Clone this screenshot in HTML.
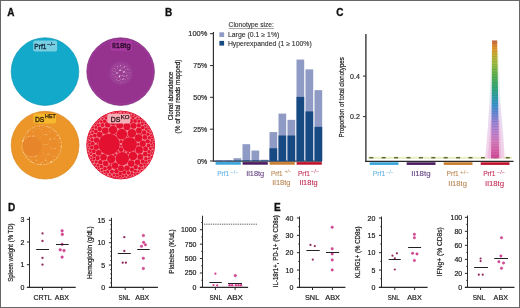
<!DOCTYPE html>
<html><head><meta charset="utf-8"><style>html,body{margin:0;padding:0;background:#fff;width:520px;height:308px;overflow:hidden}svg{display:block;will-change:transform}</style></head>
<body><svg width="520" height="308" viewBox="0 0 520 308" font-family='"Liberation Sans", sans-serif' fill="#2e2e2e"><text x="7.3" y="15.8" font-size="10" fill="#111" font-weight="bold" stroke="#111" stroke-width="0.3">A</text>
<text x="165" y="15.6" font-size="10" fill="#111" font-weight="bold" stroke="#111" stroke-width="0.3">B</text>
<text x="336.3" y="16.1" font-size="10" fill="#111" font-weight="bold" stroke="#111" stroke-width="0.3">C</text>
<text x="8.1" y="210.6" font-size="10" fill="#111" font-weight="bold" stroke="#111" stroke-width="0.3">D</text>
<text x="274" y="210.6" font-size="10" fill="#111" font-weight="bold" stroke="#111" stroke-width="0.3">E</text>
<circle cx="45.00" cy="71.60" r="33.80" fill="#12a9ca" stroke="#0b98b4" stroke-width="0.7"/>
<circle cx="120.60" cy="71.60" r="33.80" fill="#95338f" stroke="#7b2a7a" stroke-width="0.7"/>
<circle cx="120.6" cy="71.6" r="32.6" fill="none" stroke="#a0399a" stroke-width="1.2" opacity="0.8"/>
<defs><radialGradient id="pg"><stop offset="0" stop-color="#fff0ff"/><stop offset="0.75" stop-color="#f0d0f0"/><stop offset="1" stop-color="#95338f"/></radialGradient></defs>
<defs><radialGradient id="ph"><stop offset="0" stop-color="#b060b0"/><stop offset="0.7" stop-color="#a04a9c"/><stop offset="1" stop-color="#95338f" stop-opacity="0"/></radialGradient></defs>
<circle cx="120.80" cy="73.20" r="13.60" fill="url(#ph)"/>
<circle cx="120.80" cy="73.20" r="10.00" fill="url(#pg)"/>
<circle cx="120.70" cy="73.10" r="2.68" fill="#9a3f94"/>
<circle cx="121.90" cy="77.30" r="2.15" fill="#9a3f94"/>
<circle cx="124.90" cy="74.30" r="2.15" fill="#9a3f94"/>
<circle cx="117.10" cy="75.50" r="2.13" fill="#9a3f94"/>
<circle cx="123.10" cy="69.50" r="2.13" fill="#9a3f94"/>
<circle cx="117.10" cy="70.70" r="2.12" fill="#9a3f94"/>
<circle cx="119.50" cy="68.00" r="1.99" fill="#9a3f94"/>
<circle cx="118.60" cy="78.80" r="1.92" fill="#9a3f94"/>
<circle cx="126.40" cy="71.00" r="1.92" fill="#9a3f94"/>
<circle cx="114.40" cy="73.10" r="1.87" fill="#9a3f94"/>
<circle cx="125.50" cy="77.90" r="1.84" fill="#9a3f94"/>
<circle cx="122.20" cy="66.20" r="1.75" fill="#9a3f94"/>
<circle cx="116.20" cy="67.40" r="1.74" fill="#9a3f94"/>
<circle cx="115.30" cy="78.50" r="1.71" fill="#9a3f94"/>
<circle cx="126.10" cy="67.70" r="1.71" fill="#9a3f94"/>
<circle cx="128.20" cy="73.70" r="1.71" fill="#9a3f94"/>
<circle cx="121.30" cy="80.60" r="1.71" fill="#9a3f94"/>
<circle cx="113.80" cy="70.10" r="1.69" fill="#9a3f94"/>
<circle cx="113.50" cy="76.10" r="1.68" fill="#9a3f94"/>
<circle cx="128.20" cy="76.70" r="1.62" fill="#9a3f94"/>
<circle cx="124.30" cy="80.60" r="1.62" fill="#9a3f94"/>
<circle cx="118.60" cy="65.00" r="1.60" fill="#9a3f94"/>
<circle cx="118.60" cy="81.80" r="1.55" fill="#9a3f94"/>
<circle cx="129.40" cy="71.00" r="1.55" fill="#9a3f94"/>
<circle cx="124.90" cy="65.00" r="1.51" fill="#9a3f94"/>
<circle cx="111.70" cy="71.90" r="1.50" fill="#9a3f94"/>
<circle cx="115.90" cy="81.20" r="1.47" fill="#9a3f94"/>
<circle cx="128.80" cy="68.30" r="1.47" fill="#9a3f94"/>
<circle cx="113.50" cy="67.40" r="1.46" fill="#9a3f94"/>
<circle cx="121.00" cy="63.80" r="1.43" fill="#9a3f94"/>
<circle cx="127.30" cy="80.00" r="1.43" fill="#9a3f94"/>
<circle cx="111.40" cy="74.30" r="1.39" fill="#9a3f94"/>
<circle cx="122.50" cy="82.70" r="1.20" fill="#9a3f94"/>
<circle cx="130.30" cy="74.90" r="1.20" fill="#9a3f94"/>
<circle cx="112.90" cy="78.50" r="1.19" fill="#9a3f94"/>
<circle cx="116.20" cy="64.70" r="1.19" fill="#9a3f94"/>
<circle cx="123.10" cy="63.80" r="1.16" fill="#9a3f94"/>
<circle cx="45.10" cy="145.20" r="33.90" fill="#ec9529" stroke="#d98a1e" stroke-width="0.7"/>
<circle cx="41.80" cy="145.20" r="19.80" fill="#fbdca0"/>
<circle cx="31.90" cy="146.40" r="10.10" fill="#ea8d2a"/>
<circle cx="37.90" cy="133.20" r="5.00" fill="#ea8d2a"/>
<circle cx="40.90" cy="157.80" r="5.00" fill="#ea8d2a"/>
<circle cx="44.80" cy="139.80" r="5.00" fill="#ea8d2a"/>
<circle cx="46.00" cy="149.40" r="5.00" fill="#ea8d2a"/>
<circle cx="53.50" cy="143.40" r="5.00" fill="#ea8d2a"/>
<circle cx="54.10" cy="152.40" r="4.15" fill="#ea8d2a"/>
<circle cx="52.00" cy="135.00" r="4.06" fill="#ea8d2a"/>
<circle cx="49.30" cy="158.10" r="3.78" fill="#ea8d2a"/>
<circle cx="45.70" cy="130.80" r="3.76" fill="#ea8d2a"/>
<circle cx="30.40" cy="133.80" r="3.12" fill="#ea8d2a"/>
<circle cx="33.40" cy="159.00" r="3.10" fill="#ea8d2a"/>
<circle cx="58.60" cy="148.20" r="2.60" fill="#ea8d2a"/>
<circle cx="57.40" cy="137.70" r="2.47" fill="#ea8d2a"/>
<circle cx="41.20" cy="127.50" r="2.19" fill="#ea8d2a"/>
<circle cx="45.70" cy="162.60" r="2.18" fill="#ea8d2a"/>
<circle cx="28.90" cy="157.50" r="2.10" fill="#ea8d2a"/>
<circle cx="26.20" cy="136.20" r="2.08" fill="#ea8d2a"/>
<circle cx="50.80" cy="129.60" r="2.08" fill="#ea8d2a"/>
<circle cx="36.70" cy="162.60" r="1.97" fill="#ea8d2a"/>
<circle cx="59.80" cy="144.30" r="1.96" fill="#ea8d2a"/>
<circle cx="32.50" cy="129.60" r="1.94" fill="#ea8d2a"/>
<circle cx="54.40" cy="158.10" r="1.92" fill="#ea8d2a"/>
<circle cx="59.50" cy="141.00" r="1.91" fill="#ea8d2a"/>
<circle cx="37.60" cy="127.20" r="1.61" fill="#ea8d2a"/>
<circle cx="42.70" cy="163.50" r="1.55" fill="#ea8d2a"/>
<circle cx="34.90" cy="128.10" r="1.49" fill="#ea8d2a"/>
<circle cx="59.20" cy="151.80" r="1.49" fill="#ea8d2a"/>
<circle cx="39.40" cy="163.50" r="1.48" fill="#ea8d2a"/>
<circle cx="56.80" cy="134.10" r="1.43" fill="#ea8d2a"/>
<circle cx="24.40" cy="138.60" r="1.42" fill="#ea8d2a"/>
<circle cx="48.70" cy="162.60" r="1.36" fill="#ea8d2a"/>
<circle cx="26.50" cy="155.70" r="1.35" fill="#ea8d2a"/>
<circle cx="44.20" cy="126.60" r="1.30" fill="#ea8d2a"/>
<circle cx="53.50" cy="130.50" r="1.29" fill="#ea8d2a"/>
<circle cx="46.00" cy="155.10" r="1.28" fill="#ea8d2a"/>
<circle cx="56.50" cy="156.60" r="1.26" fill="#ea8d2a"/>
<circle cx="40.90" cy="152.10" r="1.25" fill="#ea8d2a"/>
<circle cx="42.40" cy="144.90" r="1.21" fill="#ea8d2a"/>
<circle cx="58.60" cy="153.90" r="1.18" fill="#ea8d2a"/>
<circle cx="52.90" cy="160.50" r="1.14" fill="#ea8d2a"/>
<circle cx="39.10" cy="138.60" r="1.13" fill="#ea8d2a"/>
<circle cx="43.30" cy="134.40" r="1.13" fill="#ea8d2a"/>
<circle cx="49.60" cy="153.60" r="1.11" fill="#ea8d2a"/>
<circle cx="48.40" cy="127.50" r="1.10" fill="#ea8d2a"/>
<circle cx="26.80" cy="133.50" r="1.08" fill="#ea8d2a"/>
<circle cx="30.10" cy="130.20" r="1.08" fill="#ea8d2a"/>
<circle cx="48.10" cy="144.30" r="1.07" fill="#ea8d2a"/>
<circle cx="51.40" cy="148.50" r="1.07" fill="#ea8d2a"/>
<circle cx="29.80" cy="159.90" r="1.06" fill="#ea8d2a"/>
<circle cx="47.50" cy="134.70" r="1.05" fill="#ea8d2a"/>
<circle cx="55.60" cy="132.30" r="1.04" fill="#ea8d2a"/>
<circle cx="57.70" cy="155.40" r="1.03" fill="#ea8d2a"/>
<circle cx="34.30" cy="162.60" r="1.03" fill="#ea8d2a"/>
<circle cx="46.00" cy="126.60" r="1.03" fill="#ea8d2a"/>
<circle cx="25.00" cy="154.20" r="1.01" fill="#ea8d2a"/>
<circle cx="31.90" cy="146.40" r="9.90" fill="#e6852a"/>
<circle cx="61.20" cy="145.20" r="0.42" fill="#fde2a8"/>
<circle cx="61.06" cy="147.54" r="0.42" fill="#fde2a8"/>
<circle cx="60.64" cy="149.84" r="0.42" fill="#fde2a8"/>
<circle cx="59.94" cy="152.08" r="0.42" fill="#fde2a8"/>
<circle cx="58.98" cy="154.22" r="0.42" fill="#fde2a8"/>
<circle cx="57.77" cy="156.22" r="0.42" fill="#fde2a8"/>
<circle cx="56.32" cy="158.06" r="0.42" fill="#fde2a8"/>
<circle cx="54.66" cy="159.72" r="0.42" fill="#fde2a8"/>
<circle cx="52.82" cy="161.17" r="0.42" fill="#fde2a8"/>
<circle cx="50.82" cy="162.38" r="0.42" fill="#fde2a8"/>
<circle cx="48.68" cy="163.34" r="0.42" fill="#fde2a8"/>
<circle cx="46.44" cy="164.04" r="0.42" fill="#fde2a8"/>
<circle cx="44.14" cy="164.46" r="0.42" fill="#fde2a8"/>
<circle cx="41.80" cy="164.60" r="0.42" fill="#fde2a8"/>
<circle cx="39.46" cy="164.46" r="0.42" fill="#fde2a8"/>
<circle cx="37.16" cy="164.04" r="0.42" fill="#fde2a8"/>
<circle cx="34.92" cy="163.34" r="0.42" fill="#fde2a8"/>
<circle cx="32.78" cy="162.38" r="0.42" fill="#fde2a8"/>
<circle cx="30.78" cy="161.17" r="0.42" fill="#fde2a8"/>
<circle cx="28.94" cy="159.72" r="0.42" fill="#fde2a8"/>
<circle cx="27.28" cy="158.06" r="0.42" fill="#fde2a8"/>
<circle cx="25.83" cy="156.22" r="0.42" fill="#fde2a8"/>
<circle cx="24.62" cy="154.22" r="0.42" fill="#fde2a8"/>
<circle cx="23.66" cy="152.08" r="0.42" fill="#fde2a8"/>
<circle cx="22.96" cy="149.84" r="0.42" fill="#fde2a8"/>
<circle cx="22.54" cy="147.54" r="0.42" fill="#fde2a8"/>
<circle cx="22.40" cy="145.20" r="0.42" fill="#fde2a8"/>
<circle cx="22.54" cy="142.86" r="0.42" fill="#fde2a8"/>
<circle cx="22.96" cy="140.56" r="0.42" fill="#fde2a8"/>
<circle cx="23.66" cy="138.32" r="0.42" fill="#fde2a8"/>
<circle cx="24.62" cy="136.18" r="0.42" fill="#fde2a8"/>
<circle cx="25.83" cy="134.18" r="0.42" fill="#fde2a8"/>
<circle cx="27.28" cy="132.34" r="0.42" fill="#fde2a8"/>
<circle cx="28.94" cy="130.68" r="0.42" fill="#fde2a8"/>
<circle cx="30.78" cy="129.23" r="0.42" fill="#fde2a8"/>
<circle cx="32.78" cy="128.02" r="0.42" fill="#fde2a8"/>
<circle cx="34.92" cy="127.06" r="0.42" fill="#fde2a8"/>
<circle cx="37.16" cy="126.36" r="0.42" fill="#fde2a8"/>
<circle cx="39.46" cy="125.94" r="0.42" fill="#fde2a8"/>
<circle cx="41.80" cy="125.80" r="0.42" fill="#fde2a8"/>
<circle cx="44.14" cy="125.94" r="0.42" fill="#fde2a8"/>
<circle cx="46.44" cy="126.36" r="0.42" fill="#fde2a8"/>
<circle cx="48.68" cy="127.06" r="0.42" fill="#fde2a8"/>
<circle cx="50.82" cy="128.02" r="0.42" fill="#fde2a8"/>
<circle cx="52.82" cy="129.23" r="0.42" fill="#fde2a8"/>
<circle cx="54.66" cy="130.68" r="0.42" fill="#fde2a8"/>
<circle cx="56.32" cy="132.34" r="0.42" fill="#fde2a8"/>
<circle cx="57.77" cy="134.18" r="0.42" fill="#fde2a8"/>
<circle cx="58.98" cy="136.18" r="0.42" fill="#fde2a8"/>
<circle cx="59.94" cy="138.32" r="0.42" fill="#fde2a8"/>
<circle cx="60.64" cy="140.56" r="0.42" fill="#fde2a8"/>
<circle cx="61.06" cy="142.86" r="0.42" fill="#fde2a8"/>
<circle cx="32.99" cy="156.74" r="0.38" fill="#fbd89a"/>
<circle cx="30.81" cy="156.74" r="0.38" fill="#fbd89a"/>
<circle cx="28.69" cy="156.29" r="0.38" fill="#fbd89a"/>
<circle cx="26.70" cy="155.41" r="0.38" fill="#fbd89a"/>
<circle cx="24.94" cy="154.13" r="0.38" fill="#fbd89a"/>
<circle cx="23.49" cy="152.51" r="0.38" fill="#fbd89a"/>
<circle cx="22.40" cy="150.63" r="0.38" fill="#fbd89a"/>
<circle cx="21.73" cy="148.56" r="0.38" fill="#fbd89a"/>
<circle cx="21.50" cy="146.40" r="0.38" fill="#fbd89a"/>
<circle cx="21.73" cy="144.24" r="0.38" fill="#fbd89a"/>
<circle cx="22.40" cy="142.17" r="0.38" fill="#fbd89a"/>
<circle cx="23.49" cy="140.29" r="0.38" fill="#fbd89a"/>
<circle cx="24.94" cy="138.67" r="0.38" fill="#fbd89a"/>
<circle cx="26.70" cy="137.39" r="0.38" fill="#fbd89a"/>
<circle cx="28.69" cy="136.51" r="0.38" fill="#fbd89a"/>
<circle cx="30.81" cy="136.06" r="0.38" fill="#fbd89a"/>
<circle cx="32.99" cy="136.06" r="0.38" fill="#fbd89a"/>
<circle cx="120.65" cy="145.00" r="34.10" fill="#f38493"/>
<circle cx="109.10" cy="144.30" r="10.62" fill="#e3112f"/>
<circle cx="129.50" cy="144.60" r="7.42" fill="#e3112f"/>
<circle cx="122.30" cy="158.60" r="6.72" fill="#e3112f"/>
<circle cx="121.75" cy="134.20" r="5.35" fill="#e3112f"/>
<circle cx="131.90" cy="133.15" r="4.25" fill="#e3112f"/>
<circle cx="132.95" cy="155.90" r="4.23" fill="#e3112f"/>
<circle cx="113.00" cy="130.00" r="4.15" fill="#e3112f"/>
<circle cx="111.25" cy="159.05" r="4.14" fill="#e3112f"/>
<circle cx="138.55" cy="138.05" r="3.68" fill="#e3112f"/>
<circle cx="139.25" cy="149.95" r="3.67" fill="#e3112f"/>
<circle cx="127.00" cy="126.50" r="3.61" fill="#e3112f"/>
<circle cx="119.65" cy="125.10" r="3.53" fill="#e3112f"/>
<circle cx="105.30" cy="130.70" r="3.32" fill="#e3112f"/>
<circle cx="103.55" cy="157.30" r="3.31" fill="#e3112f"/>
<circle cx="131.20" cy="163.60" r="3.24" fill="#e3112f"/>
<circle cx="115.10" cy="165.70" r="3.23" fill="#e3112f"/>
<circle cx="142.75" cy="143.65" r="3.09" fill="#e3112f"/>
<circle cx="140.30" cy="156.95" r="2.92" fill="#e3112f"/>
<circle cx="121.05" cy="168.15" r="2.89" fill="#e3112f"/>
<circle cx="138.90" cy="130.70" r="2.88" fill="#e3112f"/>
<circle cx="133.65" cy="125.80" r="2.87" fill="#e3112f"/>
<circle cx="99.70" cy="134.55" r="2.84" fill="#e3112f"/>
<circle cx="98.65" cy="152.75" r="2.83" fill="#e3112f"/>
<circle cx="113.35" cy="122.65" r="2.82" fill="#e3112f"/>
<circle cx="105.65" cy="163.60" r="2.74" fill="#e3112f"/>
<circle cx="127.00" cy="168.15" r="2.72" fill="#e3112f"/>
<circle cx="107.75" cy="124.75" r="2.72" fill="#e3112f"/>
<circle cx="137.50" cy="162.20" r="2.70" fill="#e3112f"/>
<circle cx="96.20" cy="147.15" r="2.61" fill="#e3112f"/>
<circle cx="96.55" cy="140.15" r="2.60" fill="#e3112f"/>
<circle cx="124.20" cy="120.55" r="2.58" fill="#e3112f"/>
<circle cx="145.55" cy="148.90" r="2.48" fill="#e3112f"/>
<circle cx="144.85" cy="137.35" r="2.44" fill="#e3112f"/>
<circle cx="109.50" cy="167.80" r="2.44" fill="#e3112f"/>
<circle cx="121.05" cy="149.60" r="2.38" fill="#e3112f"/>
<circle cx="130.50" cy="121.25" r="2.38" fill="#e3112f"/>
<circle cx="118.25" cy="119.15" r="2.33" fill="#e3112f"/>
<circle cx="145.20" cy="154.15" r="2.28" fill="#e3112f"/>
<circle cx="99.70" cy="128.95" r="2.24" fill="#e3112f"/>
<circle cx="97.60" cy="158.00" r="2.23" fill="#e3112f"/>
<circle cx="100.40" cy="162.20" r="2.21" fill="#e3112f"/>
<circle cx="116.50" cy="171.30" r="2.19" fill="#e3112f"/>
<circle cx="144.15" cy="132.45" r="2.19" fill="#e3112f"/>
<circle cx="135.75" cy="167.10" r="2.17" fill="#e3112f"/>
<circle cx="138.90" cy="125.45" r="2.16" fill="#e3112f"/>
<circle cx="102.50" cy="125.10" r="2.13" fill="#e3112f"/>
<circle cx="131.90" cy="169.55" r="2.12" fill="#e3112f"/>
<circle cx="147.65" cy="141.20" r="2.07" fill="#e3112f"/>
<circle cx="124.20" cy="172.35" r="2.00" fill="#e3112f"/>
<circle cx="142.75" cy="161.50" r="2.00" fill="#e3112f"/>
<circle cx="93.75" cy="151.35" r="1.99" fill="#e3112f"/>
<circle cx="109.15" cy="119.85" r="1.99" fill="#e3112f"/>
<circle cx="94.80" cy="135.60" r="1.96" fill="#e3112f"/>
<circle cx="92.70" cy="143.65" r="1.92" fill="#e3112f"/>
<circle cx="111.95" cy="171.65" r="1.91" fill="#e3112f"/>
<circle cx="148.70" cy="145.40" r="1.91" fill="#e3112f"/>
<circle cx="135.05" cy="120.90" r="1.91" fill="#e3112f"/>
<circle cx="114.05" cy="117.75" r="1.89" fill="#e3112f"/>
<circle cx="142.75" cy="127.55" r="1.88" fill="#e3112f"/>
<circle cx="104.95" cy="168.50" r="1.87" fill="#e3112f"/>
<circle cx="95.85" cy="131.40" r="1.86" fill="#e3112f"/>
<circle cx="127.70" cy="117.40" r="1.82" fill="#e3112f"/>
<circle cx="94.10" cy="155.55" r="1.81" fill="#e3112f"/>
<circle cx="121.75" cy="116.35" r="1.79" fill="#e3112f"/>
<circle cx="104.60" cy="121.25" r="1.78" fill="#e3112f"/>
<circle cx="120.35" cy="173.40" r="1.78" fill="#e3112f"/>
<circle cx="145.90" cy="158.70" r="1.77" fill="#e3112f"/>
<circle cx="101.45" cy="166.40" r="1.77" fill="#e3112f"/>
<circle cx="128.40" cy="172.70" r="1.77" fill="#e3112f"/>
<circle cx="141.00" cy="165.35" r="1.76" fill="#e3112f"/>
<circle cx="91.65" cy="147.50" r="1.70" fill="#e3112f"/>
<circle cx="92.00" cy="139.80" r="1.70" fill="#e3112f"/>
<circle cx="149.05" cy="151.70" r="1.68" fill="#e3112f"/>
<circle cx="148.00" cy="134.20" r="1.64" fill="#e3112f"/>
<circle cx="149.40" cy="137.70" r="1.59" fill="#e3112f"/>
<circle cx="96.20" cy="161.85" r="1.58" fill="#e3112f"/>
<circle cx="121.05" cy="141.55" r="1.58" fill="#e3112f"/>
<circle cx="107.75" cy="171.65" r="1.58" fill="#e3112f"/>
<circle cx="132.95" cy="117.75" r="1.54" fill="#e3112f"/>
<circle cx="98.30" cy="125.10" r="1.53" fill="#e3112f"/>
<circle cx="116.85" cy="115.30" r="1.53" fill="#e3112f"/>
<circle cx="138.90" cy="121.25" r="1.53" fill="#e3112f"/>
<circle cx="135.40" cy="171.30" r="1.49" fill="#e3112f"/>
<circle cx="149.05" cy="155.20" r="1.48" fill="#e3112f"/>
<circle cx="150.45" cy="148.55" r="1.48" fill="#e3112f"/>
<circle cx="146.25" cy="128.95" r="1.48" fill="#e3112f"/>
<circle cx="139.60" cy="168.50" r="1.47" fill="#e3112f"/>
<circle cx="95.85" cy="127.55" r="1.46" fill="#e3112f"/>
<circle cx="117.20" cy="175.15" r="1.45" fill="#e3112f"/>
<circle cx="93.75" cy="159.05" r="1.45" fill="#e3112f"/>
<circle cx="124.90" cy="114.95" r="1.45" fill="#e3112f"/>
<circle cx="110.55" cy="116.35" r="1.44" fill="#e3112f"/>
<circle cx="142.40" cy="123.70" r="1.43" fill="#e3112f"/>
<circle cx="97.95" cy="165.35" r="1.42" fill="#e3112f"/>
<circle cx="101.10" cy="121.60" r="1.42" fill="#e3112f"/>
<circle cx="114.05" cy="174.80" r="1.42" fill="#e3112f"/>
<circle cx="131.90" cy="173.40" r="1.41" fill="#e3112f"/>
<circle cx="151.15" cy="142.60" r="1.40" fill="#e3112f"/>
<circle cx="91.30" cy="136.30" r="1.40" fill="#e3112f"/>
<circle cx="106.00" cy="118.10" r="1.39" fill="#e3112f"/>
<circle cx="92.35" cy="132.80" r="1.36" fill="#e3112f"/>
<circle cx="146.25" cy="162.20" r="1.35" fill="#e3112f"/>
<circle cx="115.10" cy="154.85" r="1.35" fill="#e3112f"/>
<circle cx="144.50" cy="164.65" r="1.34" fill="#e3112f"/>
<circle cx="90.25" cy="150.65" r="1.34" fill="#e3112f"/>
<circle cx="122.80" cy="175.85" r="1.34" fill="#e3112f"/>
<circle cx="125.95" cy="175.50" r="1.33" fill="#e3112f"/>
<circle cx="90.95" cy="153.80" r="1.32" fill="#e3112f"/>
<circle cx="89.55" cy="145.05" r="1.30" fill="#e3112f"/>
<circle cx="138.20" cy="144.35" r="1.30" fill="#e3112f"/>
<circle cx="148.35" cy="131.05" r="1.28" fill="#e3112f"/>
<circle cx="89.55" cy="142.25" r="1.28" fill="#e3112f"/>
<circle cx="101.80" cy="169.90" r="1.27" fill="#e3112f"/>
<circle cx="130.50" cy="115.65" r="1.27" fill="#e3112f"/>
<circle cx="109.85" cy="174.45" r="1.25" fill="#e3112f"/>
<circle cx="104.60" cy="172.00" r="1.24" fill="#e3112f"/>
<circle cx="119.65" cy="113.90" r="1.23" fill="#e3112f"/>
<circle cx="137.50" cy="118.45" r="1.23" fill="#e3112f"/>
<circle cx="114.05" cy="114.25" r="1.23" fill="#e3112f"/>
<circle cx="145.55" cy="125.80" r="1.21" fill="#e3112f"/>
<circle cx="152.20" cy="145.40" r="1.21" fill="#e3112f"/>
<circle cx="93.05" cy="129.65" r="1.20" fill="#e3112f"/>
<circle cx="128.05" cy="153.10" r="1.20" fill="#e3112f"/>
<circle cx="151.85" cy="139.80" r="1.19" fill="#e3112f"/>
<circle cx="149.05" cy="158.35" r="1.18" fill="#e3112f"/>
<circle cx="120.00" cy="176.55" r="1.18" fill="#e3112f"/>
<circle cx="138.55" cy="171.30" r="1.16" fill="#e3112f"/>
<circle cx="91.30" cy="157.30" r="1.16" fill="#e3112f"/>
<circle cx="129.80" cy="175.50" r="1.15" fill="#e3112f"/>
<circle cx="122.45" cy="113.20" r="1.15" fill="#e3112f"/>
<circle cx="102.50" cy="118.80" r="1.15" fill="#e3112f"/>
<circle cx="127.70" cy="113.90" r="1.14" fill="#e3112f"/>
<circle cx="142.40" cy="168.15" r="1.14" fill="#e3112f"/>
<circle cx="98.65" cy="168.15" r="1.13" fill="#e3112f"/>
<circle cx="107.75" cy="116.00" r="1.13" fill="#e3112f"/>
<circle cx="121.05" cy="145.75" r="1.12" fill="#e3112f"/>
<circle cx="117.90" cy="152.05" r="1.12" fill="#e3112f"/>
<circle cx="151.50" cy="153.45" r="1.12" fill="#e3112f"/>
<circle cx="151.15" cy="135.25" r="1.12" fill="#e3112f"/>
<circle cx="98.30" cy="121.95" r="1.10" fill="#e3112f"/>
<circle cx="152.20" cy="151.00" r="1.10" fill="#e3112f"/>
<circle cx="89.20" cy="138.40" r="1.09" fill="#e3112f"/>
<circle cx="141.70" cy="120.90" r="1.08" fill="#e3112f"/>
<circle cx="95.15" cy="164.65" r="1.08" fill="#e3112f"/>
<circle cx="148.70" cy="160.80" r="1.08" fill="#e3112f"/>
<circle cx="135.40" cy="116.35" r="1.07" fill="#e3112f"/>
<circle cx="88.50" cy="147.50" r="1.07" fill="#e3112f"/>
<circle cx="95.50" cy="124.75" r="1.06" fill="#e3112f"/>
<circle cx="134.70" cy="174.10" r="1.06" fill="#e3112f"/>
<circle cx="93.05" cy="161.85" r="1.05" fill="#e3112f"/>
<circle cx="106.35" cy="174.10" r="1.04" fill="#e3112f"/>
<circle cx="150.45" cy="132.45" r="1.03" fill="#e3112f"/>
<circle cx="132.95" cy="114.95" r="1.03" fill="#e3112f"/>
<circle cx="152.20" cy="137.35" r="1.02" fill="#e3112f"/>
<circle cx="111.60" cy="176.20" r="1.02" fill="#e3112f"/>
<circle cx="111.60" cy="113.90" r="1.01" fill="#e3112f"/>
<circle cx="117.55" cy="112.50" r="0.99" fill="#e3112f"/>
<circle cx="115.45" cy="177.25" r="0.99" fill="#e3112f"/>
<circle cx="89.90" cy="133.85" r="0.98" fill="#e3112f"/>
<circle cx="153.25" cy="147.85" r="0.98" fill="#e3112f"/>
<circle cx="145.20" cy="123.35" r="0.97" fill="#e3112f"/>
<circle cx="140.30" cy="118.80" r="0.97" fill="#e3112f"/>
<circle cx="151.15" cy="156.95" r="0.97" fill="#e3112f"/>
<circle cx="149.05" cy="128.60" r="0.96" fill="#e3112f"/>
<circle cx="93.05" cy="127.20" r="0.95" fill="#e3112f"/>
<circle cx="137.15" cy="173.40" r="0.95" fill="#e3112f"/>
<circle cx="110.55" cy="164.30" r="0.95" fill="#e3112f"/>
<circle cx="124.55" cy="177.60" r="0.93" fill="#e3112f"/>
<circle cx="144.85" cy="167.10" r="0.93" fill="#e3112f"/>
<circle cx="103.90" cy="116.70" r="0.91" fill="#e3112f"/>
<circle cx="146.95" cy="164.65" r="0.90" fill="#e3112f"/>
<circle cx="125.60" cy="112.50" r="0.89" fill="#e3112f"/>
<circle cx="91.30" cy="159.75" r="0.89" fill="#e3112f"/>
<circle cx="117.90" cy="177.60" r="0.89" fill="#e3112f"/>
<circle cx="124.55" cy="151.35" r="0.89" fill="#e3112f"/>
<circle cx="128.05" cy="176.90" r="0.88" fill="#e3112f"/>
<circle cx="143.80" cy="121.60" r="0.88" fill="#e3112f"/>
<circle cx="141.35" cy="170.60" r="0.87" fill="#e3112f"/>
<circle cx="141.35" cy="134.20" r="0.87" fill="#e3112f"/>
<circle cx="148.00" cy="126.85" r="0.87" fill="#e3112f"/>
<circle cx="109.15" cy="114.25" r="0.87" fill="#e3112f"/>
<circle cx="96.55" cy="167.45" r="0.86" fill="#e3112f"/>
<circle cx="97.60" cy="143.65" r="0.84" fill="#e3112f"/>
<circle cx="89.55" cy="155.90" r="0.84" fill="#e3112f"/>
<circle cx="99.35" cy="119.85" r="0.84" fill="#e3112f"/>
<circle cx="132.25" cy="175.85" r="0.84" fill="#e3112f"/>
<circle cx="90.95" cy="130.70" r="0.83" fill="#e3112f"/>
<circle cx="88.85" cy="136.30" r="0.83" fill="#e3112f"/>
<circle cx="153.60" cy="143.65" r="0.82" fill="#e3112f"/>
<circle cx="88.85" cy="152.75" r="0.81" fill="#e3112f"/>
<circle cx="121.75" cy="177.95" r="0.80" fill="#e3112f"/>
<circle cx="88.15" cy="149.60" r="0.80" fill="#e3112f"/>
<circle cx="115.45" cy="112.50" r="0.80" fill="#e3112f"/>
<circle cx="105.65" cy="115.65" r="0.79" fill="#e3112f"/>
<circle cx="102.15" cy="172.35" r="0.78" fill="#e3112f"/>
<circle cx="99.35" cy="170.25" r="0.76" fill="#e3112f"/>
<circle cx="134.70" cy="151.00" r="0.76" fill="#e3112f"/>
<circle cx="88.15" cy="140.50" r="0.76" fill="#e3112f"/>
<circle cx="115.45" cy="134.55" r="0.75" fill="#e3112f"/>
<circle cx="127.70" cy="136.30" r="0.75" fill="#e3112f"/>
<circle cx="153.25" cy="141.55" r="0.74" fill="#e3112f"/>
<circle cx="129.80" cy="113.55" r="0.73" fill="#e3112f"/>
<circle cx="96.55" cy="123.00" r="0.73" fill="#e3112f"/>
<circle cx="87.80" cy="143.65" r="0.73" fill="#e3112f"/>
<circle cx="113.35" cy="177.25" r="0.73" fill="#e3112f"/>
<circle cx="120.65" cy="145.0" r="33.9" fill="none" stroke="#e01838" stroke-width="1.0"/>
<rect x="33.2" y="40.6" width="23.9" height="11" rx="2" fill="#78cfe2"/>
<text x="34.3" y="48.7" font-size="7.1" fill="#10283e" textLength="12.1" lengthAdjust="spacingAndGlyphs" stroke="#10283e" stroke-width="0.32">Prf1</text>
<text x="47.3" y="46.0" font-size="4.9" fill="#10283e" textLength="8.1" lengthAdjust="spacingAndGlyphs" stroke="#10283e" stroke-width="0.2">−/−</text>
<rect x="110.4" y="40.8" width="21.6" height="10" rx="2" fill="#ab3aa2"/>
<text x="112" y="48.1" font-size="7.9" fill="#240a24" textLength="18.7" lengthAdjust="spacingAndGlyphs" stroke="#240a24" stroke-width="0.3">Il18tg</text>
<rect x="33.2" y="113.6" width="22.9" height="9.8" rx="2" fill="#f6b82c"/>
<text x="34.9" y="121.7" font-size="7.5" fill="#2e1c06" textLength="9.4" lengthAdjust="spacingAndGlyphs" stroke="#2e1c06" stroke-width="0.32">DS</text>
<text x="45.1" y="117.9" font-size="5.2" fill="#2e1c06" textLength="10.7" lengthAdjust="spacingAndGlyphs" stroke="#2e1c06" stroke-width="0.25">HET</text>
<rect x="107.3" y="113.8" width="23.1" height="9.6" rx="2" fill="#f4afb8"/>
<text x="110.8" y="121.8" font-size="7.5" fill="#2e1416" textLength="9.6" lengthAdjust="spacingAndGlyphs" stroke="#2e1416" stroke-width="0.32">DS</text>
<text x="120.8" y="118.5" font-size="5.2" fill="#2e1416" textLength="8.8" lengthAdjust="spacingAndGlyphs" stroke="#2e1416" stroke-width="0.25">KO</text>
<line x1="213.4" y1="32" x2="213.4" y2="161.6" stroke="#2a2a2a" stroke-width="1.15"/>
<line x1="210" y1="33.7" x2="213.4" y2="33.7" stroke="#2a2a2a" stroke-width="1"/>
<text x="207.3" y="36.2" font-size="7.0" text-anchor="end" textLength="19" lengthAdjust="spacingAndGlyphs" stroke="#2e2e2e" stroke-width="0.2">100%</text>
<line x1="210" y1="65.6" x2="213.4" y2="65.6" stroke="#2a2a2a" stroke-width="1"/>
<text x="207.3" y="68.1" font-size="7.0" text-anchor="end" stroke="#2e2e2e" stroke-width="0.2">75%</text>
<line x1="210" y1="97.3" x2="213.4" y2="97.3" stroke="#2a2a2a" stroke-width="1"/>
<text x="207.3" y="99.8" font-size="7.0" text-anchor="end" stroke="#2e2e2e" stroke-width="0.2">50%</text>
<line x1="210" y1="129.2" x2="213.4" y2="129.2" stroke="#2a2a2a" stroke-width="1"/>
<text x="207.3" y="131.7" font-size="7.0" text-anchor="end" stroke="#2e2e2e" stroke-width="0.2">25%</text>
<line x1="210" y1="161" x2="213.4" y2="161" stroke="#2a2a2a" stroke-width="1"/>
<text x="207.3" y="163.5" font-size="7.0" text-anchor="end" stroke="#2e2e2e" stroke-width="0.2">0%</text>
<line x1="213.4" y1="161.2" x2="322" y2="161.2" stroke="#1e2638" stroke-width="1.2"/>
<rect x="215.5" y="160.2353" width="7.7" height="0.7646999999999999" fill="#8f9bc4"/>
<rect x="215.5" y="160.61765" width="7.7" height="0.38234999999999997" fill="#174a82"/>
<rect x="224.5" y="160.2353" width="7.7" height="0.7646999999999999" fill="#8f9bc4"/>
<rect x="224.5" y="160.61765" width="7.7" height="0.38234999999999997" fill="#174a82"/>
<rect x="233.5" y="158.1961" width="7.7" height="2.8039" fill="#8f9bc4"/>
<rect x="233.5" y="160.36275" width="7.7" height="0.63725" fill="#174a82"/>
<rect x="242.5" y="144.1766" width="7.7" height="16.8234" fill="#8f9bc4"/>
<rect x="242.5" y="160.2353" width="7.7" height="0.7646999999999999" fill="#174a82"/>
<rect x="251.5" y="150.5491" width="7.7" height="10.450899999999999" fill="#8f9bc4"/>
<rect x="251.5" y="160.2353" width="7.7" height="0.7646999999999999" fill="#174a82"/>
<rect x="260.5" y="159.7255" width="7.7" height="1.2745" fill="#8f9bc4"/>
<rect x="260.5" y="160.36275" width="7.7" height="0.63725" fill="#174a82"/>
<rect x="269.5" y="132.06885" width="7.7" height="28.93115" fill="#8f9bc4"/>
<rect x="269.5" y="148.255" width="7.7" height="12.745" fill="#174a82"/>
<rect x="278.5" y="113.5886" width="7.7" height="47.4114" fill="#8f9bc4"/>
<rect x="278.5" y="135.51" width="7.7" height="25.49" fill="#174a82"/>
<rect x="287.5" y="119.83365" width="7.7" height="41.166349999999994" fill="#8f9bc4"/>
<rect x="287.5" y="135.51" width="7.7" height="25.49" fill="#174a82"/>
<rect x="296.5" y="59.549800000000005" width="7.7" height="101.4502" fill="#8f9bc4"/>
<rect x="296.5" y="96.89265" width="7.7" height="64.10735" fill="#174a82"/>
<rect x="305.5" y="69.36345" width="7.7" height="91.63655" fill="#8f9bc4"/>
<rect x="305.5" y="111.42195000000001" width="7.7" height="49.57805" fill="#174a82"/>
<rect x="314.5" y="90.1378" width="7.7" height="70.8622" fill="#8f9bc4"/>
<rect x="314.5" y="126.8434" width="7.7" height="34.1566" fill="#174a82"/>
<rect x="215.6" y="162.1" width="25.2" height="2.6" fill="#35a3dc"/>
<rect x="242.6" y="162.1" width="25.2" height="2.6" fill="#4b1a5e"/>
<rect x="269.6" y="162.1" width="25.2" height="2.6" fill="#c97b2c"/>
<rect x="296.6" y="162.1" width="25.2" height="2.6" fill="#c0102c"/>
<text x="228.6" y="27.4" font-size="6.6" textLength="45.3" lengthAdjust="spacingAndGlyphs" stroke-opacity="0.5" stroke="#2e2e2e" stroke-width="0.2">Clonotype size:</text>
<line x1="228.6" y1="28.5" x2="273.9" y2="28.5" stroke="#555" stroke-width="0.5"/>
<rect x="219.4" y="32.3" width="4.7" height="4.7" fill="#8f9bc4"/>
<rect x="219.4" y="40.9" width="4.7" height="4.7" fill="#174a82"/>
<text x="227.9" y="37.1" font-size="6.8" textLength="51.5" lengthAdjust="spacingAndGlyphs" stroke-opacity="0.5" stroke="#2e2e2e" stroke-width="0.2">Large (0.1 ≥ 1%)</text>
<text x="227.9" y="45.6" font-size="6.8" textLength="83.8" lengthAdjust="spacingAndGlyphs" stroke-opacity="0.5" stroke="#2e2e2e" stroke-width="0.2">Hyperexpanded (1 ≥ 100%)</text>
<text transform="translate(173,96) rotate(-90)" font-size="7.4" text-anchor="middle" fill="#222" textLength="48.5" lengthAdjust="spacingAndGlyphs" stroke="#222" stroke-width="0.2">Clonal abundance</text>
<text transform="translate(180.3,96.5) rotate(-90)" font-size="7.3" text-anchor="middle" fill="#222" textLength="74" lengthAdjust="spacingAndGlyphs" stroke="#222" stroke-width="0.2">(% of total reads mapped)</text>
<text x="217.2" y="175.7" font-size="6.6" fill="#62b0e2" textLength="12" lengthAdjust="spacingAndGlyphs" stroke="#62b0e2" stroke-width="0.08">Prf1</text>
<text x="230.5" y="173.6" font-size="5.0" fill="#62b0e2" textLength="7.9" lengthAdjust="spacingAndGlyphs">−/−</text>
<text x="246.2" y="175.7" font-size="6.8" fill="#5e3a7e" textLength="18" lengthAdjust="spacingAndGlyphs" stroke="#5e3a7e" stroke-width="0.08">Il18tg</text>
<text x="270.9" y="175.9" font-size="6.6" fill="#b8844e" textLength="11.7" lengthAdjust="spacingAndGlyphs" stroke="#b8844e" stroke-width="0.08">Prf1</text>
<text x="284.7" y="173.1" font-size="5.0" fill="#b8844e" textLength="6.7" lengthAdjust="spacingAndGlyphs">+/−</text>
<text x="272.2" y="184.6" font-size="6.8" fill="#b8844e" textLength="18.3" lengthAdjust="spacingAndGlyphs" stroke="#b8844e" stroke-width="0.08">Il18tg</text>
<text x="297.9" y="175.6" font-size="6.6" fill="#c42a52" textLength="12" lengthAdjust="spacingAndGlyphs" stroke="#c42a52" stroke-width="0.08">Prf1</text>
<text x="310.8" y="173.2" font-size="5.0" fill="#c42a52" textLength="8.6" lengthAdjust="spacingAndGlyphs">−/−</text>
<text x="299.4" y="184.7" font-size="6.8" fill="#c42a52" textLength="18.2" lengthAdjust="spacingAndGlyphs" stroke="#c42a52" stroke-width="0.08">Il18tg</text>
<line x1="365.9" y1="34" x2="365.9" y2="162" stroke="#2a2a2a" stroke-width="1.3"/>
<line x1="365.29999999999995" y1="161.4" x2="513.6" y2="161.4" stroke="#2a2a2a" stroke-width="1.1"/>
<line x1="363" y1="76.1" x2="365.9" y2="76.1" stroke="#2a2a2a" stroke-width="1"/>
<text x="359.8" y="78.6" font-size="7.0" text-anchor="end" stroke="#2e2e2e" stroke-width="0.2">0.4</text>
<line x1="363" y1="116.6" x2="365.9" y2="116.6" stroke="#2a2a2a" stroke-width="1"/>
<text x="359.8" y="119.1" font-size="7.0" text-anchor="end" stroke="#2e2e2e" stroke-width="0.2">0.2</text>
<text transform="translate(344.4,97.25) rotate(-90)" font-size="7.4" text-anchor="middle" fill="#222" textLength="80.3" lengthAdjust="spacingAndGlyphs" stroke="#222" stroke-width="0.2">Proportion of total clonotypes</text>
<line x1="368" y1="157.8" x2="512" y2="157.8" stroke="#eaf0cc" stroke-width="2.2"/>
<line x1="369.3" y1="157.7" x2="373.3" y2="157.7" stroke="#5c6a36" stroke-width="1.5"/>
<line x1="381.7" y1="157.7" x2="385.7" y2="157.7" stroke="#5c6a36" stroke-width="1.5"/>
<line x1="394.1" y1="157.7" x2="398.1" y2="157.7" stroke="#5c6a36" stroke-width="1.5"/>
<line x1="406.5" y1="157.7" x2="410.5" y2="157.7" stroke="#5c6a36" stroke-width="1.5"/>
<line x1="418.90000000000003" y1="157.7" x2="422.90000000000003" y2="157.7" stroke="#5c6a36" stroke-width="1.5"/>
<line x1="431.3" y1="157.7" x2="435.3" y2="157.7" stroke="#5c6a36" stroke-width="1.5"/>
<line x1="443.70000000000005" y1="157.7" x2="447.70000000000005" y2="157.7" stroke="#5c6a36" stroke-width="1.5"/>
<line x1="456.1" y1="157.7" x2="460.1" y2="157.7" stroke="#5c6a36" stroke-width="1.5"/>
<line x1="468.5" y1="157.7" x2="472.5" y2="157.7" stroke="#5c6a36" stroke-width="1.5"/>
<line x1="480.90000000000003" y1="157.7" x2="484.90000000000003" y2="157.7" stroke="#5c6a36" stroke-width="1.5"/>
<line x1="493.3" y1="157.7" x2="497.3" y2="157.7" stroke="#5c6a36" stroke-width="1.5"/>
<line x1="505.70000000000005" y1="157.7" x2="509.70000000000005" y2="157.7" stroke="#5c6a36" stroke-width="1.5"/>
<defs><linearGradient id="rb" x1="0" y1="40.5" x2="0" y2="158" gradientUnits="userSpaceOnUse"><stop offset="0" stop-color="#c0603a"/><stop offset="0.03" stop-color="#d8803a"/><stop offset="0.07" stop-color="#e29a30"/><stop offset="0.13" stop-color="#c0b038"/><stop offset="0.2" stop-color="#9cbc44"/><stop offset="0.3" stop-color="#58b050"/><stop offset="0.4" stop-color="#34a878"/><stop offset="0.48" stop-color="#30a0a8"/><stop offset="0.55" stop-color="#3c94cc"/><stop offset="0.62" stop-color="#6a88d4"/><stop offset="0.7" stop-color="#9c86d6"/><stop offset="0.78" stop-color="#bc84d0"/><stop offset="0.86" stop-color="#d47cc0"/><stop offset="0.93" stop-color="#d866ac"/><stop offset="1" stop-color="#d04a98"/></linearGradient><linearGradient id="env" x1="0" y1="50" x2="0" y2="158" gradientUnits="userSpaceOnUse"><stop offset="0" stop-color="#f4f6dc"/><stop offset="0.35" stop-color="#e4eef0"/><stop offset="0.55" stop-color="#e6def4"/><stop offset="1" stop-color="#f3d0e8"/></linearGradient><pattern id="stripes" x="0" y="40.5" width="4" height="2.6" patternUnits="userSpaceOnUse"><rect x="0" y="0" width="4" height="0.6" fill="#000" opacity="0.13"/></pattern></defs>
<path d="M491.2,50 L498.4,50 L500.2,100 L502.4,125 L504.2,150 L504.8,158.2 L485.3,158.2 L486,150 L488,125 L489.6,100 Z" fill="url(#env)"/>
<path d="M490.8,120 L499.6,120 L501,150 L501.5,158.2 L487.9,158.2 L488.6,150 Z" fill="#eeb4da" opacity="0.8"/>
<path d="M492.1,40.5 L497.2,40.5 L498.1,100 L499.2,158.2 L491,158.2 L491.7,100 Z" fill="url(#rb)"/>
<path d="M492.1,40.5 L497.2,40.5 L498.1,100 L499.2,158.2 L491,158.2 L491.7,100 Z" fill="url(#stripes)"/>
<rect x="369.7" y="162.3" width="28.8" height="2.6" fill="#35a3dc"/>
<rect x="406.7" y="162.3" width="28.8" height="2.6" fill="#4b1a5e"/>
<rect x="443.7" y="162.3" width="28.8" height="2.6" fill="#c97b2c"/>
<rect x="480.7" y="162.3" width="28.8" height="2.6" fill="#c0102c"/>
<text x="372.7" y="175.9" font-size="6.6" fill="#62b0e2" textLength="12.5" lengthAdjust="spacingAndGlyphs" stroke="#62b0e2" stroke-width="0.08">Prf1</text>
<text x="386.2" y="173.8" font-size="5.0" fill="#62b0e2" textLength="7.4" lengthAdjust="spacingAndGlyphs">−/−</text>
<text x="411.3" y="175.9" font-size="6.8" fill="#5e3a7e" textLength="19.3" lengthAdjust="spacingAndGlyphs" stroke="#5e3a7e" stroke-width="0.08">Il18tg</text>
<text x="446.6" y="176.4" font-size="6.6" fill="#b8844e" textLength="12.1" lengthAdjust="spacingAndGlyphs" stroke="#b8844e" stroke-width="0.08">Prf1</text>
<text x="460.1" y="174" font-size="5.0" fill="#b8844e" textLength="9" lengthAdjust="spacingAndGlyphs">+/−</text>
<text x="448.3" y="185.8" font-size="6.8" fill="#b8844e" textLength="18.7" lengthAdjust="spacingAndGlyphs" stroke="#b8844e" stroke-width="0.08">Il18tg</text>
<text x="483.2" y="176.4" font-size="6.6" fill="#c42a52" textLength="12.2" lengthAdjust="spacingAndGlyphs" stroke="#c42a52" stroke-width="0.08">Prf1</text>
<text x="496.8" y="174" font-size="5.0" fill="#c42a52" textLength="8.3" lengthAdjust="spacingAndGlyphs">−/−</text>
<text x="485" y="185.8" font-size="6.8" fill="#c42a52" textLength="19" lengthAdjust="spacingAndGlyphs" stroke="#c42a52" stroke-width="0.08">Il18tg</text>
<line x1="29.5" y1="216.9" x2="29.5" y2="287.9" stroke="#2a2a2a" stroke-width="1.05"/>
<line x1="26.9" y1="287.4" x2="75.7" y2="287.4" stroke="#2a2a2a" stroke-width="1.15"/>
<line x1="26.9" y1="287.4" x2="29.5" y2="287.4" stroke="#2a2a2a" stroke-width="1.0"/>
<text x="24.3" y="289.9" font-size="7.0" text-anchor="end" fill="#222" stroke="#222" stroke-width="0.2">0</text>
<line x1="26.9" y1="264.7" x2="29.5" y2="264.7" stroke="#2a2a2a" stroke-width="1.0"/>
<text x="24.3" y="267.2" font-size="7.0" text-anchor="end" fill="#222" stroke="#222" stroke-width="0.2">1</text>
<line x1="26.9" y1="241.99999999999997" x2="29.5" y2="241.99999999999997" stroke="#2a2a2a" stroke-width="1.0"/>
<text x="24.3" y="244.49999999999997" font-size="7.0" text-anchor="end" fill="#222" stroke="#222" stroke-width="0.2">2</text>
<line x1="26.9" y1="219.29999999999998" x2="29.5" y2="219.29999999999998" stroke="#2a2a2a" stroke-width="1.0"/>
<text x="24.3" y="221.79999999999998" font-size="7.0" text-anchor="end" fill="#222" stroke="#222" stroke-width="0.2">3</text>
<line x1="42.5" y1="287.4" x2="42.5" y2="290.0" stroke="#2a2a2a" stroke-width="1.0"/>
<text x="33.5" y="299.6" font-size="7.1" fill="#222" textLength="18.2" lengthAdjust="spacingAndGlyphs" stroke="#222" stroke-width="0.2">CRTL</text>
<line x1="61.8" y1="287.4" x2="61.8" y2="290.0" stroke="#2a2a2a" stroke-width="1.0"/>
<text x="54.8" y="299.6" font-size="7.1" fill="#222" textLength="14.2" lengthAdjust="spacingAndGlyphs" stroke="#222" stroke-width="0.2">ABX</text>
<text transform="translate(12.6,252.6) rotate(-90)" font-size="7.2" text-anchor="middle" fill="#222" textLength="58.4" lengthAdjust="spacingAndGlyphs" stroke="#222" stroke-width="0.2">Spleen weight (% TD)</text>
<circle cx="42.50" cy="233.40" r="1.15" fill="#93295f"/>
<circle cx="42.50" cy="241.00" r="1.15" fill="#93295f"/>
<circle cx="42.50" cy="257.90" r="1.15" fill="#93295f"/>
<circle cx="42.50" cy="264.70" r="1.15" fill="#93295f"/>
<circle cx="62.10" cy="230.80" r="1.33" fill="#d94b98" stroke="#b82a78" stroke-width="0.4"/>
<circle cx="62.30" cy="234.40" r="1.33" fill="#d94b98" stroke="#b82a78" stroke-width="0.4"/>
<circle cx="62.10" cy="244.30" r="1.33" fill="#d94b98" stroke="#b82a78" stroke-width="0.4"/>
<circle cx="60.20" cy="249.80" r="1.33" fill="#d94b98" stroke="#b82a78" stroke-width="0.4"/>
<circle cx="64.00" cy="250.60" r="1.33" fill="#d94b98" stroke="#b82a78" stroke-width="0.4"/>
<circle cx="62.10" cy="257.10" r="1.33" fill="#d94b98" stroke="#b82a78" stroke-width="0.4"/>
<line x1="36.2" y1="249.5" x2="49" y2="249.5" stroke="#222" stroke-width="1.0"/>
<line x1="56" y1="244.5" x2="68.7" y2="244.5" stroke="#222" stroke-width="1.0"/>
<line x1="111.5" y1="217.8" x2="111.5" y2="287.9" stroke="#2a2a2a" stroke-width="1.05"/>
<line x1="108.9" y1="287.4" x2="157.9" y2="287.4" stroke="#2a2a2a" stroke-width="1.15"/>
<line x1="108.9" y1="287.4" x2="111.5" y2="287.4" stroke="#2a2a2a" stroke-width="1.0"/>
<text x="105.2" y="289.9" font-size="7.0" text-anchor="end" fill="#222" stroke="#222" stroke-width="0.2">0</text>
<line x1="110.1" y1="282.926" x2="111.5" y2="282.926" stroke="#2a2a2a" stroke-width="0.8"/>
<line x1="110.1" y1="278.452" x2="111.5" y2="278.452" stroke="#2a2a2a" stroke-width="0.8"/>
<line x1="110.1" y1="273.97799999999995" x2="111.5" y2="273.97799999999995" stroke="#2a2a2a" stroke-width="0.8"/>
<line x1="110.1" y1="269.50399999999996" x2="111.5" y2="269.50399999999996" stroke="#2a2a2a" stroke-width="0.8"/>
<line x1="108.9" y1="265.03" x2="111.5" y2="265.03" stroke="#2a2a2a" stroke-width="1.0"/>
<text x="105.2" y="267.53" font-size="7.0" text-anchor="end" fill="#222" stroke="#222" stroke-width="0.2">5</text>
<line x1="110.1" y1="260.556" x2="111.5" y2="260.556" stroke="#2a2a2a" stroke-width="0.8"/>
<line x1="110.1" y1="256.082" x2="111.5" y2="256.082" stroke="#2a2a2a" stroke-width="0.8"/>
<line x1="110.1" y1="251.60799999999998" x2="111.5" y2="251.60799999999998" stroke="#2a2a2a" stroke-width="0.8"/>
<line x1="110.1" y1="247.13399999999996" x2="111.5" y2="247.13399999999996" stroke="#2a2a2a" stroke-width="0.8"/>
<line x1="108.9" y1="242.65999999999997" x2="111.5" y2="242.65999999999997" stroke="#2a2a2a" stroke-width="1.0"/>
<text x="105.2" y="245.15999999999997" font-size="7.0" text-anchor="end" fill="#222" stroke="#222" stroke-width="0.2">10</text>
<line x1="110.1" y1="238.18599999999998" x2="111.5" y2="238.18599999999998" stroke="#2a2a2a" stroke-width="0.8"/>
<line x1="110.1" y1="233.71199999999996" x2="111.5" y2="233.71199999999996" stroke="#2a2a2a" stroke-width="0.8"/>
<line x1="110.1" y1="229.23799999999997" x2="111.5" y2="229.23799999999997" stroke="#2a2a2a" stroke-width="0.8"/>
<line x1="110.1" y1="224.76399999999995" x2="111.5" y2="224.76399999999995" stroke="#2a2a2a" stroke-width="0.8"/>
<line x1="108.9" y1="220.28999999999996" x2="111.5" y2="220.28999999999996" stroke="#2a2a2a" stroke-width="1.0"/>
<text x="105.2" y="222.78999999999996" font-size="7.0" text-anchor="end" fill="#222" stroke="#222" stroke-width="0.2">15</text>
<line x1="125.2" y1="287.4" x2="125.2" y2="290.0" stroke="#2a2a2a" stroke-width="1.0"/>
<text x="118.5" y="299.6" font-size="7.1" fill="#222" textLength="11.7" lengthAdjust="spacingAndGlyphs" stroke="#222" stroke-width="0.2">SNL</text>
<line x1="143.2" y1="287.4" x2="143.2" y2="290.0" stroke="#2a2a2a" stroke-width="1.0"/>
<text x="135.3" y="299.6" font-size="7.1" fill="#222" textLength="14" lengthAdjust="spacingAndGlyphs" stroke="#222" stroke-width="0.2">ABX</text>
<text transform="translate(92.3,252.7) rotate(-90)" font-size="6.6" text-anchor="middle" fill="#222" textLength="52.7" lengthAdjust="spacingAndGlyphs" stroke="#222" stroke-width="0.2">Hemoglobin (g/dL)</text>
<circle cx="124.30" cy="237.20" r="1.15" fill="#93295f"/>
<circle cx="124.30" cy="251.00" r="1.15" fill="#93295f"/>
<circle cx="122.70" cy="262.70" r="1.15" fill="#93295f"/>
<circle cx="125.90" cy="262.70" r="1.15" fill="#93295f"/>
<circle cx="143.40" cy="235.50" r="1.28" fill="#d94b98" stroke="#b82a78" stroke-width="0.4"/>
<circle cx="143.60" cy="242.40" r="1.28" fill="#d94b98" stroke="#b82a78" stroke-width="0.4"/>
<circle cx="145.40" cy="244.70" r="1.28" fill="#d94b98" stroke="#b82a78" stroke-width="0.4"/>
<circle cx="141.50" cy="246.30" r="1.28" fill="#d94b98" stroke="#b82a78" stroke-width="0.4"/>
<circle cx="143.30" cy="258.30" r="1.28" fill="#d94b98" stroke="#b82a78" stroke-width="0.4"/>
<circle cx="143.30" cy="268.50" r="1.28" fill="#d94b98" stroke="#b82a78" stroke-width="0.4"/>
<line x1="117.8" y1="253.5" x2="130.8" y2="253.5" stroke="#222" stroke-width="1.0"/>
<line x1="137.2" y1="249.5" x2="149.7" y2="249.5" stroke="#222" stroke-width="1.0"/>
<line x1="202.5" y1="215.7" x2="202.5" y2="287.9" stroke="#2a2a2a" stroke-width="1.05"/>
<line x1="199.9" y1="287.4" x2="248.1" y2="287.4" stroke="#2a2a2a" stroke-width="1.15"/>
<line x1="199.9" y1="287.4" x2="202.5" y2="287.4" stroke="#2a2a2a" stroke-width="1.0"/>
<text x="196.5" y="289.9" font-size="7.0" text-anchor="end" fill="#222" stroke="#222" stroke-width="0.2">0</text>
<line x1="201.1" y1="280.19" x2="202.5" y2="280.19" stroke="#2a2a2a" stroke-width="0.8"/>
<line x1="199.9" y1="272.97999999999996" x2="202.5" y2="272.97999999999996" stroke="#2a2a2a" stroke-width="1.0"/>
<text x="196.5" y="275.47999999999996" font-size="7.0" text-anchor="end" fill="#222" stroke="#222" stroke-width="0.2">250</text>
<line x1="201.1" y1="265.77" x2="202.5" y2="265.77" stroke="#2a2a2a" stroke-width="0.8"/>
<line x1="199.9" y1="258.56" x2="202.5" y2="258.56" stroke="#2a2a2a" stroke-width="1.0"/>
<text x="196.5" y="261.06" font-size="7.0" text-anchor="end" fill="#222" stroke="#222" stroke-width="0.2">500</text>
<line x1="201.1" y1="251.35" x2="202.5" y2="251.35" stroke="#2a2a2a" stroke-width="0.8"/>
<line x1="199.9" y1="244.14" x2="202.5" y2="244.14" stroke="#2a2a2a" stroke-width="1.0"/>
<text x="196.5" y="246.64" font-size="7.0" text-anchor="end" fill="#222" stroke="#222" stroke-width="0.2">750</text>
<line x1="201.1" y1="236.92999999999998" x2="202.5" y2="236.92999999999998" stroke="#2a2a2a" stroke-width="0.8"/>
<line x1="199.9" y1="229.71999999999997" x2="202.5" y2="229.71999999999997" stroke="#2a2a2a" stroke-width="1.0"/>
<text x="196.5" y="232.21999999999997" font-size="7.0" text-anchor="end" fill="#222" stroke="#222" stroke-width="0.2">1000</text>
<line x1="201.1" y1="222.50999999999996" x2="202.5" y2="222.50999999999996" stroke="#2a2a2a" stroke-width="0.8"/>
<line x1="215.4" y1="287.4" x2="215.4" y2="290.0" stroke="#2a2a2a" stroke-width="1.0"/>
<text x="209.4" y="299.6" font-size="7.1" fill="#222" textLength="12.6" lengthAdjust="spacingAndGlyphs" stroke="#222" stroke-width="0.2">SNL</text>
<line x1="235.1" y1="287.4" x2="235.1" y2="290.0" stroke="#2a2a2a" stroke-width="1.0"/>
<text x="226.9" y="299.6" font-size="7.1" fill="#222" textLength="15.9" lengthAdjust="spacingAndGlyphs" stroke="#222" stroke-width="0.2">ABX</text>
<text transform="translate(174.4,251.5) rotate(-90)" font-size="6.6" text-anchor="middle" fill="#222" textLength="44.3" lengthAdjust="spacingAndGlyphs" stroke="#222" stroke-width="0.2">Platelets (K/uL)</text>
<circle cx="215.40" cy="273.70" r="1.10" fill="#d43a8c"/>
<circle cx="213.50" cy="285.00" r="1.10" fill="#d43a8c"/>
<circle cx="217.20" cy="285.40" r="1.10" fill="#d43a8c"/>
<circle cx="235.30" cy="275.60" r="1.28" fill="#d94b98" stroke="#b82a78" stroke-width="0.4"/>
<circle cx="229.60" cy="285.20" r="1.20" fill="#d43a8c"/>
<circle cx="232.20" cy="285.20" r="1.20" fill="#d43a8c"/>
<circle cx="235.90" cy="285.20" r="1.20" fill="#d43a8c"/>
<circle cx="238.50" cy="285.20" r="1.20" fill="#d43a8c"/>
<circle cx="241.00" cy="285.20" r="1.20" fill="#d43a8c"/>
<line x1="209.4" y1="282.5" x2="221.8" y2="282.5" stroke="#222" stroke-width="1.0"/>
<line x1="228" y1="283.5" x2="242" y2="283.5" stroke="#222" stroke-width="1.0"/>
<line x1="204" y1="224.2" x2="257" y2="224.2" stroke="#333" stroke-width="0.9" stroke-dasharray="0.9,0.9"/>
<line x1="299.5" y1="216.4" x2="299.5" y2="287.9" stroke="#2a2a2a" stroke-width="1.05"/>
<line x1="296.9" y1="287.4" x2="345.4" y2="287.4" stroke="#2a2a2a" stroke-width="1.15"/>
<line x1="296.9" y1="287.4" x2="299.5" y2="287.4" stroke="#2a2a2a" stroke-width="1.0"/>
<text x="293.3" y="289.9" font-size="7.0" text-anchor="end" fill="#222" stroke="#222" stroke-width="0.2">0</text>
<line x1="298.1" y1="278.72499999999997" x2="299.5" y2="278.72499999999997" stroke="#2a2a2a" stroke-width="0.8"/>
<line x1="296.9" y1="270.04999999999995" x2="299.5" y2="270.04999999999995" stroke="#2a2a2a" stroke-width="1.0"/>
<text x="293.3" y="272.54999999999995" font-size="7.0" text-anchor="end" fill="#222" stroke="#222" stroke-width="0.2">10</text>
<line x1="298.1" y1="261.37499999999994" x2="299.5" y2="261.37499999999994" stroke="#2a2a2a" stroke-width="0.8"/>
<line x1="296.9" y1="252.7" x2="299.5" y2="252.7" stroke="#2a2a2a" stroke-width="1.0"/>
<text x="293.3" y="255.2" font-size="7.0" text-anchor="end" fill="#222" stroke="#222" stroke-width="0.2">20</text>
<line x1="298.1" y1="244.02499999999998" x2="299.5" y2="244.02499999999998" stroke="#2a2a2a" stroke-width="0.8"/>
<line x1="296.9" y1="235.34999999999997" x2="299.5" y2="235.34999999999997" stroke="#2a2a2a" stroke-width="1.0"/>
<text x="293.3" y="237.84999999999997" font-size="7.0" text-anchor="end" fill="#222" stroke="#222" stroke-width="0.2">30</text>
<line x1="298.1" y1="226.67499999999995" x2="299.5" y2="226.67499999999995" stroke="#2a2a2a" stroke-width="0.8"/>
<line x1="296.9" y1="217.99999999999997" x2="299.5" y2="217.99999999999997" stroke="#2a2a2a" stroke-width="1.0"/>
<text x="293.3" y="220.49999999999997" font-size="7.0" text-anchor="end" fill="#222" stroke="#222" stroke-width="0.2">40</text>
<line x1="312.5" y1="287.4" x2="312.5" y2="290.0" stroke="#2a2a2a" stroke-width="1.0"/>
<text x="305" y="299.6" font-size="7.1" fill="#222" textLength="14.2" lengthAdjust="spacingAndGlyphs" stroke="#222" stroke-width="0.2">SNL</text>
<line x1="332.4" y1="287.4" x2="332.4" y2="290.0" stroke="#2a2a2a" stroke-width="1.0"/>
<text x="325.3" y="299.6" font-size="7.1" fill="#222" textLength="14.7" lengthAdjust="spacingAndGlyphs" stroke="#222" stroke-width="0.2">ABX</text>
<text transform="translate(277.8,251.2) rotate(-90)" font-size="6.4" text-anchor="middle" fill="#222" textLength="72" lengthAdjust="spacingAndGlyphs" stroke="#222" stroke-width="0.2">IL-18r1+, PD-1+ (% CD8s)</text>
<circle cx="310.50" cy="244.90" r="1.10" fill="#93295f"/>
<circle cx="314.80" cy="246.10" r="1.10" fill="#93295f"/>
<circle cx="312.80" cy="259.60" r="1.10" fill="#93295f"/>
<circle cx="332.20" cy="227.20" r="1.23" fill="#d94b98" stroke="#b82a78" stroke-width="0.4"/>
<circle cx="332.20" cy="248.70" r="1.23" fill="#d94b98" stroke="#b82a78" stroke-width="0.4"/>
<circle cx="332.20" cy="253.90" r="1.23" fill="#d94b98" stroke="#b82a78" stroke-width="0.4"/>
<circle cx="332.20" cy="259.90" r="1.23" fill="#d94b98" stroke="#b82a78" stroke-width="0.4"/>
<circle cx="332.20" cy="269.90" r="1.23" fill="#d94b98" stroke="#b82a78" stroke-width="0.4"/>
<line x1="306.4" y1="250.5" x2="319.7" y2="250.5" stroke="#222" stroke-width="1.0"/>
<line x1="326" y1="252.5" x2="339.1" y2="252.5" stroke="#222" stroke-width="1.0"/>
<line x1="381.5" y1="216.5" x2="381.5" y2="287.9" stroke="#2a2a2a" stroke-width="1.05"/>
<line x1="378.9" y1="287.4" x2="427.6" y2="287.4" stroke="#2a2a2a" stroke-width="1.15"/>
<line x1="378.9" y1="287.4" x2="381.5" y2="287.4" stroke="#2a2a2a" stroke-width="1.0"/>
<text x="375.3" y="289.9" font-size="7.0" text-anchor="end" fill="#222" stroke="#222" stroke-width="0.2">0</text>
<line x1="380.1" y1="278.72499999999997" x2="381.5" y2="278.72499999999997" stroke="#2a2a2a" stroke-width="0.8"/>
<line x1="378.9" y1="270.04999999999995" x2="381.5" y2="270.04999999999995" stroke="#2a2a2a" stroke-width="1.0"/>
<text x="375.3" y="272.54999999999995" font-size="7.0" text-anchor="end" fill="#222" stroke="#222" stroke-width="0.2">5</text>
<line x1="380.1" y1="261.37499999999994" x2="381.5" y2="261.37499999999994" stroke="#2a2a2a" stroke-width="0.8"/>
<line x1="378.9" y1="252.7" x2="381.5" y2="252.7" stroke="#2a2a2a" stroke-width="1.0"/>
<text x="375.3" y="255.2" font-size="7.0" text-anchor="end" fill="#222" stroke="#222" stroke-width="0.2">10</text>
<line x1="380.1" y1="244.02499999999998" x2="381.5" y2="244.02499999999998" stroke="#2a2a2a" stroke-width="0.8"/>
<line x1="378.9" y1="235.34999999999997" x2="381.5" y2="235.34999999999997" stroke="#2a2a2a" stroke-width="1.0"/>
<text x="375.3" y="237.84999999999997" font-size="7.0" text-anchor="end" fill="#222" stroke="#222" stroke-width="0.2">15</text>
<line x1="380.1" y1="226.67499999999995" x2="381.5" y2="226.67499999999995" stroke="#2a2a2a" stroke-width="0.8"/>
<line x1="378.9" y1="217.99999999999997" x2="381.5" y2="217.99999999999997" stroke="#2a2a2a" stroke-width="1.0"/>
<text x="375.3" y="220.49999999999997" font-size="7.0" text-anchor="end" fill="#222" stroke="#222" stroke-width="0.2">20</text>
<line x1="394.8" y1="287.4" x2="394.8" y2="290.0" stroke="#2a2a2a" stroke-width="1.0"/>
<text x="387.8" y="299.6" font-size="7.1" fill="#222" textLength="11.7" lengthAdjust="spacingAndGlyphs" stroke="#222" stroke-width="0.2">SNL</text>
<line x1="414.6" y1="287.4" x2="414.6" y2="290.0" stroke="#2a2a2a" stroke-width="1.0"/>
<text x="407.3" y="299.6" font-size="7.1" fill="#222" textLength="14.4" lengthAdjust="spacingAndGlyphs" stroke="#222" stroke-width="0.2">ABX</text>
<text transform="translate(359.8,252.4) rotate(-90)" font-size="6.4" text-anchor="middle" fill="#222" textLength="51.8" lengthAdjust="spacingAndGlyphs" stroke="#222" stroke-width="0.2">KLRG1+ (% CD8s)</text>
<circle cx="392.50" cy="255.70" r="1.10" fill="#93295f"/>
<circle cx="396.90" cy="253.30" r="1.10" fill="#93295f"/>
<circle cx="394.80" cy="258.30" r="1.10" fill="#93295f"/>
<circle cx="394.80" cy="269.50" r="1.10" fill="#93295f"/>
<circle cx="414.40" cy="234.30" r="1.23" fill="#d94b98" stroke="#b82a78" stroke-width="0.4"/>
<circle cx="414.40" cy="237.70" r="1.23" fill="#d94b98" stroke="#b82a78" stroke-width="0.4"/>
<circle cx="412.60" cy="253.30" r="1.23" fill="#d94b98" stroke="#b82a78" stroke-width="0.4"/>
<circle cx="417.00" cy="253.90" r="1.23" fill="#d94b98" stroke="#b82a78" stroke-width="0.4"/>
<circle cx="414.40" cy="260.40" r="1.23" fill="#d94b98" stroke="#b82a78" stroke-width="0.4"/>
<line x1="388.6" y1="259.5" x2="400.8" y2="259.5" stroke="#222" stroke-width="1.0"/>
<line x1="408.1" y1="247.5" x2="421.1" y2="247.5" stroke="#222" stroke-width="1.0"/>
<line x1="467.5" y1="215.5" x2="467.5" y2="287.9" stroke="#2a2a2a" stroke-width="1.05"/>
<line x1="464.9" y1="287.4" x2="514.5" y2="287.4" stroke="#2a2a2a" stroke-width="1.15"/>
<line x1="464.9" y1="287.4" x2="467.5" y2="287.4" stroke="#2a2a2a" stroke-width="1.0"/>
<text x="462.2" y="289.9" font-size="7.0" text-anchor="end" fill="#222" stroke="#222" stroke-width="0.2">0</text>
<line x1="466.1" y1="280.39" x2="467.5" y2="280.39" stroke="#2a2a2a" stroke-width="0.8"/>
<line x1="464.9" y1="273.38" x2="467.5" y2="273.38" stroke="#2a2a2a" stroke-width="1.0"/>
<text x="462.2" y="275.88" font-size="7.0" text-anchor="end" fill="#222" stroke="#222" stroke-width="0.2">20</text>
<line x1="466.1" y1="266.37" x2="467.5" y2="266.37" stroke="#2a2a2a" stroke-width="0.8"/>
<line x1="464.9" y1="259.35999999999996" x2="467.5" y2="259.35999999999996" stroke="#2a2a2a" stroke-width="1.0"/>
<text x="462.2" y="261.85999999999996" font-size="7.0" text-anchor="end" fill="#222" stroke="#222" stroke-width="0.2">40</text>
<line x1="466.1" y1="252.34999999999997" x2="467.5" y2="252.34999999999997" stroke="#2a2a2a" stroke-width="0.8"/>
<line x1="464.9" y1="245.33999999999997" x2="467.5" y2="245.33999999999997" stroke="#2a2a2a" stroke-width="1.0"/>
<text x="462.2" y="247.83999999999997" font-size="7.0" text-anchor="end" fill="#222" stroke="#222" stroke-width="0.2">60</text>
<line x1="466.1" y1="238.32999999999998" x2="467.5" y2="238.32999999999998" stroke="#2a2a2a" stroke-width="0.8"/>
<line x1="464.9" y1="231.32" x2="467.5" y2="231.32" stroke="#2a2a2a" stroke-width="1.0"/>
<text x="462.2" y="233.82" font-size="7.0" text-anchor="end" fill="#222" stroke="#222" stroke-width="0.2">80</text>
<line x1="466.1" y1="224.31" x2="467.5" y2="224.31" stroke="#2a2a2a" stroke-width="0.8"/>
<line x1="464.9" y1="217.29999999999998" x2="467.5" y2="217.29999999999998" stroke="#2a2a2a" stroke-width="1.0"/>
<text x="462.2" y="219.79999999999998" font-size="7.0" text-anchor="end" fill="#222" stroke="#222" stroke-width="0.2">100</text>
<line x1="480.6" y1="287.4" x2="480.6" y2="290.0" stroke="#2a2a2a" stroke-width="1.0"/>
<text x="472.8" y="299.6" font-size="7.1" fill="#222" textLength="12.5" lengthAdjust="spacingAndGlyphs" stroke="#222" stroke-width="0.2">SNL</text>
<line x1="500.9" y1="287.4" x2="500.9" y2="290.0" stroke="#2a2a2a" stroke-width="1.0"/>
<text x="493.6" y="299.6" font-size="7.1" fill="#222" textLength="14.4" lengthAdjust="spacingAndGlyphs" stroke="#222" stroke-width="0.2">ABX</text>
<text transform="translate(442,251.7) rotate(-90)" font-size="6.4" text-anchor="middle" fill="#222" textLength="49.1" lengthAdjust="spacingAndGlyphs" stroke="#222" stroke-width="0.2">IFNg+ (% CD8s)</text>
<circle cx="480.60" cy="258.50" r="1.10" fill="#93295f"/>
<circle cx="480.60" cy="261.10" r="1.10" fill="#93295f"/>
<circle cx="478.80" cy="274.70" r="1.10" fill="#93295f"/>
<circle cx="482.70" cy="274.70" r="1.10" fill="#93295f"/>
<circle cx="501.50" cy="237.70" r="1.23" fill="#d94b98" stroke="#b82a78" stroke-width="0.4"/>
<circle cx="500.90" cy="255.90" r="1.23" fill="#d94b98" stroke="#b82a78" stroke-width="0.4"/>
<circle cx="498.90" cy="261.70" r="1.23" fill="#d94b98" stroke="#b82a78" stroke-width="0.4"/>
<circle cx="503.50" cy="263.00" r="1.23" fill="#d94b98" stroke="#b82a78" stroke-width="0.4"/>
<circle cx="501.50" cy="268.20" r="1.23" fill="#d94b98" stroke="#b82a78" stroke-width="0.4"/>
<line x1="474.1" y1="267.5" x2="487.9" y2="267.5" stroke="#222" stroke-width="1.0"/>
<line x1="494.2" y1="258.5" x2="508" y2="258.5" stroke="#222" stroke-width="1.0"/>
<rect x="0.5" y="0.5" width="519" height="307" fill="none" stroke="#666" stroke-width="1"/></svg></body></html>
